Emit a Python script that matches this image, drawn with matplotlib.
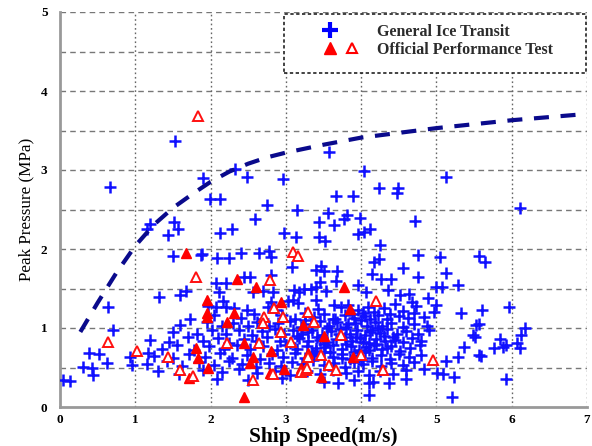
import matplotlib
matplotlib.use("Agg")
import matplotlib.pyplot as plt
from matplotlib.legend_handler import HandlerTuple
from matplotlib.lines import Line2D
from matplotlib.patches import Rectangle

# ---------------- data ----------------
blue_pts = [
    # sparse / upper points
    (0.04,0.34),(0.13,0.33),(0.39,0.68),(0.52,0.67),(0.31,0.51),(0.42,0.49),(0.44,0.41),(0.62,0.56),
    (0.64,1.27),(0.71,0.97),(0.93,0.63),(0.96,0.53),(1.17,0.68),(1.32,1.39),(1.60,1.42),(1.67,1.47),
    (1.50,1.91),(1.88,1.94),(1.19,2.32),(1.16,2.25),(1.51,2.34),(1.57,2.25),(1.43,2.18),(1.53,3.37),
    (0.67,2.78),(1.90,2.90),(1.99,2.63),(2.13,2.63),(2.33,3.01),(2.48,2.91),(2.96,2.89),(2.75,2.56),
    (2.59,2.38),(3.15,2.49),(3.44,2.34),(2.97,2.20),(3.13,2.15),(3.44,2.15),(2.29,2.25),(2.12,2.20),
    (3.57,3.23),(4.04,2.99),(5.13,2.91),(4.24,2.77),(4.49,2.77),(4.48,2.71),(3.67,2.67),(3.89,2.67),
    (6.11,2.52),(3.56,2.46),(3.81,2.43),(3.77,2.38),(3.64,2.30),(3.99,2.39),(4.71,2.35),(3.96,2.19),
    (4.04,2.22),(4.12,2.25),(3.52,2.10),(4.25,2.05),(4.75,1.92),(4.17,1.84),(4.24,1.87),(4.56,1.76),
    (4.76,1.65),
    # band 1.4 - 2.0
    (1.87,1.92),(2.09,1.89),(2.24,1.89),(2.41,1.95),(2.64,1.95),(2.77,1.97),(2.80,1.90),(3.08,1.77),
    (3.40,1.73),(3.51,1.72),(3.68,1.72),(3.45,1.58),(3.67,1.60),(4.14,1.68),(4.27,1.62),(2.07,1.57),
    (2.21,1.57),(2.44,1.65),(2.53,1.65),(2.80,1.67),(2.11,1.46),(2.69,1.47),(2.83,1.46),(2.56,1.46),
    (3.11,1.48),(3.17,1.46),(3.33,1.49),(3.40,1.52),(3.53,1.47),(3.47,1.78),(3.96,1.54),(4.36,1.48),
    (3.24,1.49),(4.51,1.42),(4.63,1.43),(4.67,1.33),(4.73,1.28),(4.89,1.38),(4.40,1.62),(4.07,1.45),
    # right side
    (5.05,1.90),(5.57,1.91),(5.65,1.84),(5.13,1.70),(5.00,1.52),(5.07,1.52),(5.29,1.54),(4.99,1.29),
    (4.97,1.20),(5.32,1.19),(5.61,1.23),(5.97,1.27),(4.84,1.14),(5.56,1.05),(6.17,1.00),(6.12,0.91),
    (5.49,0.91),(5.51,0.88),(5.85,0.86),(6.07,0.81),(6.11,0.75),(5.76,0.75),(5.89,0.76),(5.93,0.78),
    (5.36,0.76),(5.59,0.65),(5.29,0.63),(5.13,0.58),(4.84,0.48),(5.01,0.43),(5.09,0.42),(5.23,0.38),
    (5.92,0.35),(5.21,0.13),(5.53,1.04),(5.57,0.66),(4.10,0.15),
    # dense band 1.2 - 1.35
    (1.97,1.28),(2.16,1.34),(2.07,1.27),(2.20,1.27),(2.31,1.25),(2.49,1.23),(2.76,1.27),(2.87,1.23),
    (2.80,1.33),(3.03,1.34),(3.09,1.35),(3.16,1.32),(3.40,1.35),(3.43,1.24),(3.64,1.29),(3.73,1.27),
    (3.83,1.29),(3.96,1.23),(4.09,1.27),(4.17,1.20),(4.31,1.25),(4.45,1.30),(4.55,1.22),(4.38,1.18),
    # band 1.1 - 1.2
    (1.73,1.12),(2.05,1.16),(2.40,1.13),(2.58,1.18),(2.70,1.11),(2.95,1.17),(3.12,1.12),(3.25,1.19),
    (3.38,1.14),(3.50,1.18),(3.62,1.11),(3.78,1.16),(3.90,1.13),(4.02,1.19),(4.12,1.12),(4.22,1.16),
    (4.35,1.11),(4.50,1.15),(4.62,1.13),(4.70,1.19),
    # band 1.0 - 1.1
    (1.60,1.04),(1.95,1.07),(2.15,1.02),(2.30,1.06),(2.50,1.03),(2.62,1.08),(2.78,1.02),(2.90,1.06),
    (3.05,1.09),(3.20,1.01),(3.33,1.05),(3.45,1.09),(3.57,1.03),(3.68,1.07),(3.80,1.01),(3.92,1.06),
    (4.00,1.10),(4.08,1.03),(4.18,1.07),(4.28,1.02),(4.40,1.06),(4.55,1.01),(4.70,1.05),(4.88,1.03),
    # band 0.9 - 1.0
    (1.50,0.95),(1.82,0.92),(2.02,0.98),(2.20,0.93),(2.38,0.97),(2.55,0.91),(2.68,0.96),(2.85,0.99),
    (2.98,0.92),(3.10,0.97),(3.22,0.93),(3.35,0.98),(3.48,0.91),(3.60,0.96),(3.72,0.99),(3.85,0.93),
    (3.95,0.97),(4.05,0.91),(4.15,0.98),(4.25,0.94),(4.35,0.99),(4.48,0.92),(4.60,0.96),(4.75,0.93),
    (4.90,0.98),
    # band 0.8 - 0.9
    (1.20,0.85),(1.45,0.82),(1.70,0.88),(1.90,0.84),(2.10,0.87),(2.25,0.81),(2.45,0.86),(2.60,0.83),
    (2.75,0.88),(2.92,0.84),(3.05,0.81),(3.18,0.87),(3.30,0.83),(3.42,0.88),(3.55,0.82),(3.66,0.86),
    (3.78,0.89),(3.88,0.83),(3.98,0.87),(4.10,0.81),(4.20,0.86),(4.32,0.84),(4.42,0.89),(4.55,0.82),
    (4.68,0.87),(4.80,0.84),
    # band 0.7 - 0.8
    (1.35,0.74),(1.55,0.78),(1.78,0.72),(1.98,0.77),(2.18,0.73),(2.35,0.79),(2.52,0.74),(2.70,0.77),
    (2.88,0.72),(3.00,0.78),(3.15,0.74),(3.28,0.77),(3.40,0.71),(3.52,0.76),(3.63,0.79),(3.75,0.73),
    (3.86,0.77),(3.97,0.72),(4.07,0.76),(4.17,0.79),(4.28,0.73),(4.40,0.77),(4.52,0.71),(4.65,0.75),
    (4.78,0.78),
    # band 0.6 - 0.7
    (1.25,0.65),(1.50,0.62),(1.72,0.67),(1.92,0.63),(2.12,0.68),(2.28,0.62),(2.48,0.66),(2.65,0.61),
    (2.82,0.67),(2.96,0.63),(3.12,0.68),(3.26,0.62),(3.38,0.66),(3.50,0.69),(3.62,0.63),(3.74,0.67),
    (3.85,0.61),(3.95,0.65),(4.05,0.69),(4.15,0.62),(4.26,0.66),(4.38,0.61),(4.50,0.67),(4.63,0.63),
    (4.80,0.66),
    # band 0.5 - 0.6
    (1.15,0.55),(1.42,0.58),(1.62,0.52),(1.85,0.57),(2.05,0.53),(2.25,0.58),(2.42,0.54),(2.60,0.51),
    (2.78,0.56),(2.94,0.52),(3.08,0.57),(3.22,0.54),(3.36,0.59),(3.50,0.53),(3.64,0.56),(3.78,0.51),
    (3.90,0.57),(4.02,0.54),(4.14,0.58),(4.26,0.52),(4.40,0.56),(4.55,0.53),(4.70,0.57),
    # band 0.4 - 0.5
    (1.30,0.46),(1.58,0.42),(1.90,0.47),(2.15,0.44),(2.38,0.48),(2.62,0.43),(2.85,0.46),(3.05,0.41),
    (3.28,0.45),(3.45,0.42),(3.62,0.47),(3.80,0.43),(3.96,0.46),(4.10,0.41),(4.25,0.45),(4.42,0.42),
    (4.60,0.47),
    # band 0.3 - 0.4
    (2.08,0.36),(2.50,0.34),(2.95,0.37),(3.51,0.32),(3.69,0.30),(3.91,0.34),(4.11,0.30),(4.16,0.32),
    (4.37,0.30),(4.60,0.35),
    # extra core density
    (3.15,0.90),(3.30,0.95),(3.45,0.85),(3.55,1.00),(3.70,0.92),(3.82,1.05),(3.93,0.88),(4.03,0.82),
    (4.12,0.95),(4.22,1.00),(4.30,0.90),(3.40,0.75),(3.58,0.70),(3.75,0.62),(3.90,0.70),(4.00,0.60),
    (4.10,0.72),(4.20,0.80),(3.25,1.10),(3.35,0.68),(3.65,1.12),(3.88,1.18),(4.05,1.15),(3.50,0.80),
    (3.80,0.80),(4.35,0.75),(4.45,0.85),
]
blue_x = [p[0] for p in blue_pts]
blue_y = [p[1] for p in blue_pts]

red_filled_x = [1.67,2.35,2.60,1.95,1.95,1.95,2.31,2.22,2.44,1.81,1.83,1.97,1.71,2.45,2.79,2.53,
                2.57,2.80,3.20,3.29,3.23,2.97,3.47,3.89,2.93,3.77,3.85,3.50]
red_filled_y = [1.95,1.62,1.52,1.35,1.19,1.14,1.19,1.08,0.81,0.75,0.62,0.49,0.37,0.13,0.43,0.56,
                0.63,0.71,0.50,0.68,1.04,0.48,0.38,0.63,1.33,1.52,1.24,0.90]

red_open_x = [1.83,1.80,0.64,1.02,1.43,1.59,1.77,2.79,2.84,2.71,2.96,2.64,2.22,2.83,2.57,3.09,
              3.16,3.07,3.20,3.27,2.93,2.69,4.20,3.29,3.37,3.73,3.29,3.47,3.57,3.67,4.29,4.96,
              4.00,3.28]
red_open_y = [3.68,1.65,0.82,0.71,0.63,0.47,0.39,1.61,1.25,1.14,1.14,0.81,0.81,0.42,0.34,1.96,
              1.91,0.82,0.44,0.47,0.95,1.06,1.34,1.20,1.08,0.91,0.63,0.66,0.53,0.47,0.47,0.59,
              0.66,0.49]

curve_x = [0.27,0.50,0.75,1.00,1.25,1.50,1.75,2.00,2.25,2.50,2.75,3.00,3.50,4.00,4.50,5.00,5.50,6.00,6.50,7.00]
curve_y = [0.95,1.32,1.70,2.04,2.31,2.52,2.69,2.85,2.98,3.08,3.16,3.22,3.32,3.41,3.47,3.53,3.58,3.63,3.67,3.71]

x_ticks = [0, 1, 2, 3, 4, 5, 6, 7]
y_ticks = [0, 1, 2, 3, 4, 5]
y_grid = [0.5, 1, 1.5, 2, 2.5, 3, 3.5, 4, 4.5, 5]
legend_labels = ["General Ice Transit", "Official Performance Test"]

# ---------------- plot ----------------
serif = ["Liberation Serif", "DejaVu Serif"]
plt.rcParams["font.family"] = serif

fig = plt.figure(figsize=(5.92, 4.46), dpi=100)
ax = fig.add_axes([60/592, (446-407)/446, 527/592, 395/446])
ax.set_xlim(0, 7)
ax.set_ylim(0, 5)

# grid
for yv in y_grid:
    ax.axhline(yv, color="#777777", lw=1.0, ls=(0, (4, 3)), zorder=0)
for xv in x_ticks[1:]:
    ax.axvline(xv, color="#666666", lw=1.0, ls=(0, (1.2, 2)), zorder=0)

ax.plot(curve_x, curve_y, color="#0a0a8c", lw=3.0, ls=(0, (3.6, 2.8)), zorder=4,
        dash_capstyle="butt")

ax.plot(blue_x, blue_y, ls="none", marker="+", ms=8, mew=1.8, color="#1010ff", zorder=3)
ax.plot(red_filled_x, red_filled_y, ls="none", marker="^", ms=7.5, color="#ff0000",
        mec="#ff0000", zorder=3.5)
ax.plot(red_open_x, red_open_y, ls="none", marker="^", ms=7, mfc="white", mec="#ff1010",
        mew=1.4, zorder=3.5)

for s in ["top", "right"]:
    ax.spines[s].set_visible(False)
for s in ["left", "bottom"]:
    ax.spines[s].set_color("#999999")
    ax.spines[s].set_linewidth(2.0)

ax.set_xticks(x_ticks)
ax.set_yticks(y_ticks)
ax.tick_params(axis="x", length=0, pad=5, labelsize=9.5)
ax.tick_params(axis="y", length=0, pad=9, labelsize=9.5)
for lbl in ax.get_xticklabels() + ax.get_yticklabels():
    lbl.set_fontweight("bold")

ax.set_xlabel("Ship Speed(m/s)", fontsize=15.5, fontweight="bold", va="center")
ax.xaxis.set_label_coords(0.5, -0.076)
ax.set_ylabel("Peak Pressure (MPa)", fontsize=12.3, fontweight="normal", va="center")
ax.yaxis.set_label_coords(-0.063, 0.5)

# legend frame (dashed box)
frame = Rectangle((0.425, 0.8456), 0.573, 0.1494, transform=ax.transAxes, facecolor="white",
                  edgecolor="#222222", lw=1.2, ls=(0, (2, 1.5)), zorder=6, clip_on=False)
ax.add_patch(frame)

fs = 11.5
fs_px = fs * 100 / 72
leg_blue = Line2D([], [], ls="none", marker="+", ms=11, mew=3, color="#0000ff")
leg_none = Line2D([], [], ls="none")
leg_rf = Line2D([], [], ls="none", marker="^", ms=8, color="#ff0000")
leg_ro = Line2D([], [], ls="none", marker="^", ms=7, mfc="white", mec="#ff0000", mew=1.5)
leg = ax.legend([(leg_blue, leg_none), (leg_rf, leg_ro)], legend_labels,
                handler_map={tuple: HandlerTuple(ndivide=None, pad=8 / fs_px)},
                loc="upper left", bbox_to_anchor=((323 - 60) / 527, 1 - (24 - 12) / 395),
                borderaxespad=0, borderpad=0,
                prop={"family": serif, "weight": "bold", "size": fs},
                handlelength=36 / fs_px, handletextpad=18 / fs_px, labelspacing=0.13,
                frameon=False)
leg.set_zorder(7)
for t in leg.get_texts():
    t.set_color("#2b2b2b")

fig.savefig("out.png", dpi=100)
